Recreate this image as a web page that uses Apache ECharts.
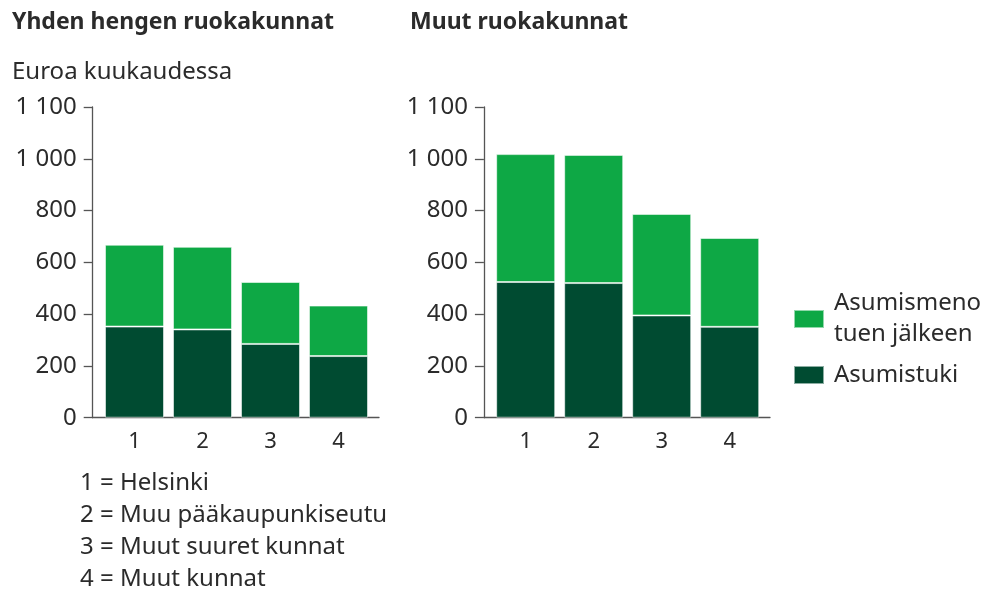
<!DOCTYPE html>
<html>
<head>
<meta charset="utf-8">
<script src="https://cdn.jsdelivr.net/npm/echarts@6/dist/echarts.min.js"></script>
<style>
  html, body { margin: 0; padding: 0; background: #fff; }
  #chart { width: 984px; height: 590px; }
</style>
</head>
<body>
<div id="chart"></div>
<script>
// categories and their explanations
const categories = ['1', '2', '3', '4']
const categoryNotes = ['1 = Helsinki', '2 = Muu pääkaupunkiseutu', '3 = Muut suuret kunnat', '4 = Muut kunnat']

// y axis tick labels (value / 200 -> label), as printed in the source
const yTickLabels = ['0', '200', '400', '600', '800', '1 000', '1 100']

const panelTitles = ['Yhden hengen ruokakunnat', 'Muut ruokakunnat']
const unitText = 'Euroa kuukaudessa'
const seriesNames = ['Asumistuki', 'Asumismeno\ntuen jälkeen']

// Yhden hengen ruokakunnat
const singleSupport = [352, 341, 285, 238]
const singleAfter = [316, 319, 239, 195]
// Muut ruokakunnat
const otherSupport = [524, 520, 395, 351]
const otherAfter = [494, 495, 392, 343]

const dark = '#004b31'
const green = '#0ea845'
const axisColor = '#555'
const textColor = '#2b2b2b'
const font = 'Noto Sans'

const chart = echarts.init(document.getElementById('chart'))

const plotTop = 107
const plotHeight = 310.7

function barAxis(idx) {
  return {
    type: 'category',
    gridIndex: idx,
    data: categories,
    axisLine: { show: false },
    axisTick: { show: false },
    axisLabel: { color: textColor, fontSize: 22, fontFamily: font, margin: 13 }
  }
}

function valueAxis(idx) {
  return {
    type: 'value',
    gridIndex: idx,
    min: 0,
    max: 1200,
    interval: 200,
    offset: 7.8,
    splitLine: { show: false },
    axisLine: { show: true, lineStyle: { color: axisColor, width: 1.3 } },
    axisTick: { show: true, length: 9, lineStyle: { color: axisColor, width: 1.3 } },
    axisLabel: {
      color: textColor,
      fontSize: 24,
      fontFamily: font,
      margin: 16,
      formatter: v => yTickLabels[Math.round(v / 200)]
    }
  }
}

// helper axes that only draw the longer baseline
function baseAxis(idx) {
  return {
    type: 'value',
    gridIndex: idx,
    min: 0,
    max: 1,
    axisLine: { show: true, lineStyle: { color: axisColor, width: 1.3 } },
    axisTick: { show: false },
    axisLabel: { show: false },
    splitLine: { show: false }
  }
}
function hiddenAxis(idx) {
  return { type: 'value', gridIndex: idx, show: false, min: 0, max: 1 }
}

const barStyle = c => ({ color: c, borderColor: 'rgba(255,255,255,0.55)', borderWidth: 1 })

function bars(name, data, color, axisIdx) {
  return {
    name: name,
    type: 'bar',
    stack: 'p' + axisIdx,
    xAxisIndex: axisIdx,
    yAxisIndex: axisIdx,
    barWidth: 59,
    itemStyle: barStyle(color),
    emphasis: { disabled: true },
    data: data
  }
}

const titleStyle = { fontFamily: font, fontSize: 23, fontWeight: 'bold', color: textColor, lineHeight: 26 }
const bodyStyle = { fontFamily: font, fontSize: 24, fontWeight: 'normal', color: textColor, lineHeight: 28 }

chart.setOption({
  backgroundColor: '#fff',
  animation: false,
  title: [
    { text: panelTitles[0], left: 12, top: 9, padding: 0, textStyle: titleStyle },
    { text: panelTitles[1], left: 410, top: 9, padding: 0, textStyle: titleStyle },
    { text: unitText, left: 12, top: 58, padding: 0, textStyle: bodyStyle },
    {
      text: categoryNotes.join('\n'),
      left: 80,
      top: 467,
      padding: 0,
      textStyle: Object.assign({}, bodyStyle, { lineHeight: 32 })
    }
  ],
  legend: {
    orient: 'vertical',
    left: 793,
    top: 288,
    padding: 0,
    icon: 'rect',
    itemWidth: 30,
    itemHeight: 18,
    itemGap: 9.5,
    data: [seriesNames[1], seriesNames[0]],
    textStyle: { fontFamily: font, fontSize: 24, color: textColor, lineHeight: 31, padding: [0, 0, 0, 5] },
    selectedMode: false
  },
  grid: [
    { left: 100.5, width: 272, top: plotTop, height: plotHeight },
    { left: 491.7, width: 272, top: plotTop, height: plotHeight },
    { left: 92.7, width: 286.3, top: plotTop, height: plotHeight },
    { left: 484, width: 286, top: plotTop, height: plotHeight }
  ],
  xAxis: [barAxis(0), barAxis(1), baseAxis(2), baseAxis(3)],
  yAxis: [valueAxis(0), valueAxis(1), hiddenAxis(2), hiddenAxis(3)],
  series: [
    bars(seriesNames[0], singleSupport, dark, 0),
    bars(seriesNames[1], singleAfter, green, 0),
    bars(seriesNames[0], otherSupport, dark, 1),
    bars(seriesNames[1], otherAfter, green, 1)
  ]
})
</script>
</body>
</html>
